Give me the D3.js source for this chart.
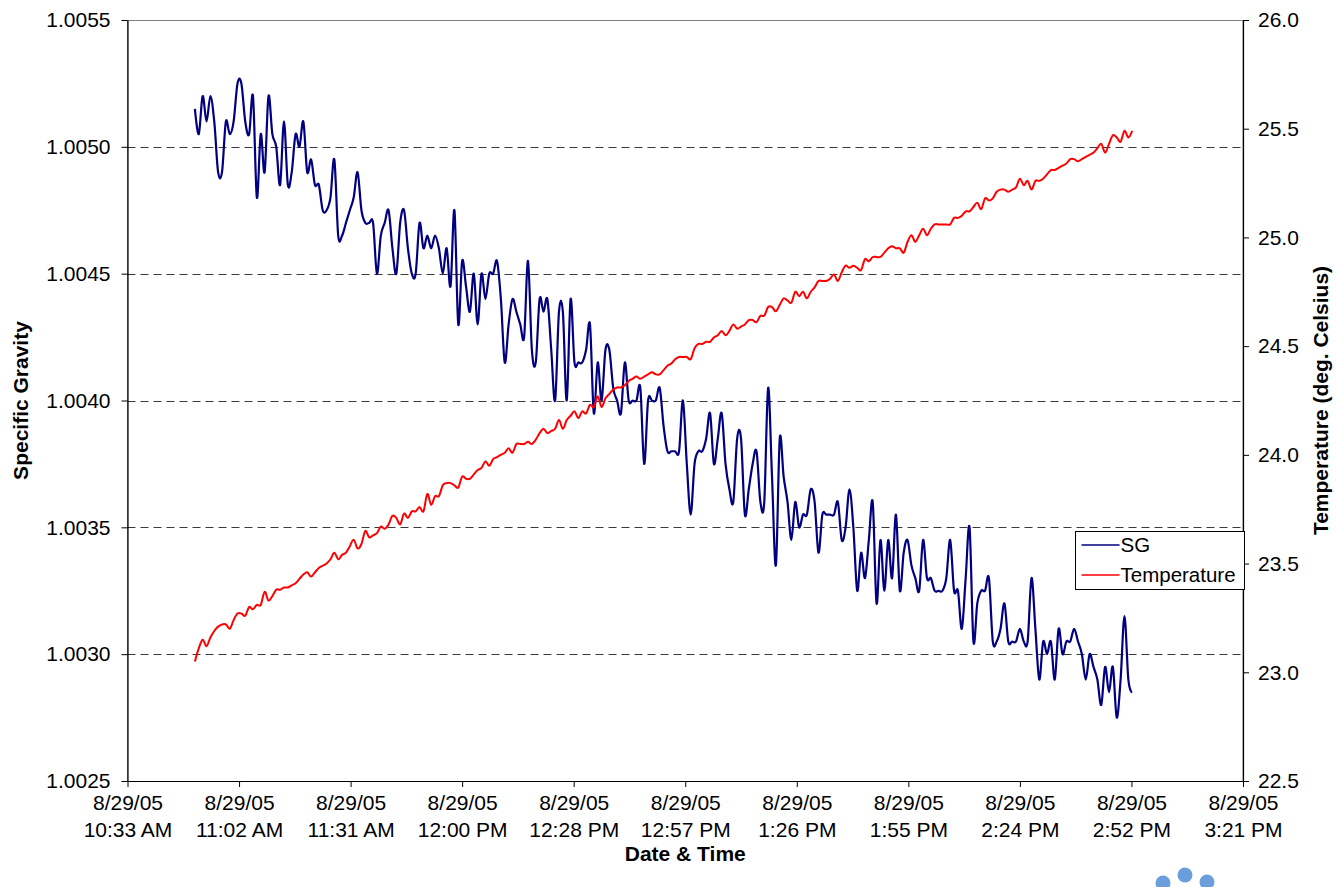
<!DOCTYPE html>
<html>
<head>
<meta charset="utf-8">
<script src="https://cdn.jsdelivr.net/npm/d3@7"></script>
<style>
  html, body { margin: 0; padding: 0; background: #fff; }
  svg { display: block; font-family: "Liberation Sans", Arial, sans-serif; }
</style>
</head>
<body>
<svg id="chart" width="1336" height="887"></svg>
<script>
// ---- data -------------------------------------------------------------
const seriesNames = ["SG", "Temperature"];
const firstReading = "2005-08-29 10:51:00";   // one reading per minute
const readingStepMinutes = 1;

const sgValues = [
  1.00515, 1.00505, 1.0052, 1.0051, 1.0052, 1.0051, 1.0049, 1.0049, 1.0051, 1.00505,
  1.0051, 1.00525, 1.00525, 1.0051, 1.00505, 1.0052, 1.0048, 1.00505, 1.0049, 1.0052,
  1.00505, 1.0050, 1.00485, 1.0051, 1.00485, 1.0049, 1.00505, 1.0050, 1.0051, 1.0049,
  1.00495, 1.00485, 1.00485, 1.00475, 1.00475, 1.0048, 1.00495, 1.00465, 1.00465, 1.0047,
  1.00475, 1.0048, 1.0049, 1.00475, 1.0047, 1.0047, 1.0047, 1.0045, 1.00465, 1.0047,
  1.00475, 1.0046, 1.0045, 1.0047, 1.00475, 1.0046, 1.0045, 1.0045, 1.0047, 1.0046,
  1.00465, 1.0046, 1.00465, 1.0046, 1.0045, 1.0046, 1.00445, 1.00475, 1.0043, 1.00455,
  1.00445, 1.00435, 1.0045, 1.0043, 1.0045, 1.0044, 1.0045, 1.0045, 1.00455, 1.0044,
  1.00415, 1.0043, 1.0044, 1.00435, 1.0043, 1.00425, 1.00455, 1.0042, 1.00415, 1.0044,
  1.00435, 1.0044, 1.0042, 1.0040, 1.00435, 1.00435, 1.0040, 1.0044, 1.00415, 1.00415,
  1.00415, 1.0042, 1.0043, 1.00395, 1.00415, 1.0040, 1.0042, 1.0042, 1.00405, 1.0040,
  1.00395, 1.00415, 1.0040, 1.0040, 1.0040, 1.00405, 1.00375, 1.0040, 1.0040, 1.0040,
  1.00405, 1.0039, 1.0038, 1.0038, 1.0038, 1.0038, 1.0040, 1.00375, 1.00355, 1.00375,
  1.0038, 1.0038, 1.00385, 1.00395, 1.00375, 1.00385, 1.00395, 1.00375, 1.00365, 1.0036,
  1.00385, 1.00385, 1.00355, 1.00365, 1.00375, 1.0038, 1.0036, 1.0036, 1.00405, 1.0037,
  1.00335, 1.00385, 1.0037, 1.0036, 1.00345, 1.0036, 1.0035, 1.00355, 1.00355, 1.00365,
  1.0036, 1.0034, 1.00355, 1.00355, 1.00355, 1.00355, 1.0036, 1.00345, 1.0035, 1.00365,
  1.0035, 1.00325, 1.0034, 1.0033, 1.00345, 1.0036, 1.0032, 1.00345, 1.00325, 1.00345,
  1.0033, 1.00355, 1.00325, 1.0034, 1.00345, 1.00335, 1.0033, 1.00325, 1.00345, 1.0033,
  1.0033, 1.00325, 1.00325, 1.00325, 1.0033, 1.00345, 1.00325, 1.00325, 1.0031, 1.0033,
  1.0035, 1.00305, 1.0032, 1.00325, 1.00325, 1.0033, 1.00305, 1.00305, 1.0031, 1.0032,
  1.00305, 1.00305, 1.00305, 1.0031, 1.00305, 1.00305, 1.0033, 1.0031, 1.0029, 1.00305,
  1.0030, 1.00305, 1.0029, 1.0031, 1.0030, 1.00305, 1.00305, 1.0031, 1.00305, 1.0030,
  1.0029, 1.0030, 1.00295, 1.0029, 1.0028, 1.00295, 1.00285, 1.00295, 1.00275, 1.0029,
  1.00315, 1.0029, 1.00285
];

const tempValues = [
  23.05, 23.11, 23.15, 23.12, 23.16, 23.19, 23.21, 23.22, 23.22, 23.20,
  23.24, 23.27, 23.27, 23.26, 23.30, 23.29, 23.31, 23.31, 23.37, 23.33,
  23.35, 23.38, 23.38, 23.39, 23.39, 23.40, 23.41, 23.43, 23.45, 23.46,
  23.44, 23.46, 23.48, 23.49, 23.50, 23.52, 23.55, 23.52, 23.54, 23.55,
  23.58, 23.61, 23.57, 23.59, 23.65, 23.62, 23.63, 23.64, 23.67, 23.66,
  23.68, 23.72, 23.71, 23.68, 23.73, 23.71, 23.74, 23.74, 23.76, 23.74,
  23.82, 23.77, 23.81, 23.81, 23.86, 23.87, 23.87, 23.86, 23.85, 23.90,
  23.89, 23.89, 23.91, 23.93, 23.94, 23.97, 23.95, 23.98, 23.99, 24.00,
  24.01, 24.03, 24.01, 24.05, 24.05, 24.05, 24.06, 24.05, 24.07, 24.10,
  24.12, 24.10, 24.11, 24.12, 24.16, 24.12, 24.16, 24.18, 24.20, 24.17,
  24.20, 24.19, 24.23, 24.22, 24.27, 24.22, 24.26, 24.28, 24.30, 24.31,
  24.31, 24.32, 24.34, 24.35, 24.36, 24.35, 24.36, 24.37, 24.38, 24.37,
  24.37, 24.39, 24.41, 24.42, 24.44, 24.45, 24.45, 24.45, 24.44, 24.49,
  24.51, 24.51, 24.52, 24.52, 24.54, 24.55, 24.57, 24.55, 24.57, 24.60,
  24.58, 24.59, 24.60, 24.62, 24.62, 24.61, 24.64, 24.64, 24.68, 24.68,
  24.66, 24.69, 24.72, 24.71, 24.70, 24.75, 24.73, 24.75, 24.72, 24.75,
  24.77, 24.80, 24.80, 24.80, 24.81, 24.83, 24.80, 24.84, 24.87, 24.86,
  24.87, 24.86, 24.85, 24.90, 24.89, 24.91, 24.91, 24.91, 24.93, 24.95,
  24.96, 24.95, 24.95, 24.93, 24.98, 25.01, 24.98, 25.01, 25.04, 25.01,
  25.04, 25.06, 25.06, 25.06, 25.06, 25.06, 25.09, 25.09, 25.10, 25.12,
  25.12, 25.14, 25.16, 25.13, 25.18, 25.17, 25.18, 25.21, 25.22, 25.22,
  25.21, 25.22, 25.23, 25.27, 25.24, 25.26, 25.22, 25.26, 25.26, 25.27,
  25.29, 25.31, 25.31, 25.32, 25.33, 25.34, 25.36, 25.36, 25.35, 25.36,
  25.37, 25.38, 25.39, 25.41, 25.43, 25.39, 25.43, 25.47, 25.46, 25.44,
  25.49, 25.46, 25.49
];

const timeTicks = [
  "2005-08-29 10:33:36", "2005-08-29 11:02:24", "2005-08-29 11:31:12",
  "2005-08-29 12:00:00", "2005-08-29 12:28:48", "2005-08-29 12:57:36",
  "2005-08-29 13:26:24", "2005-08-29 13:55:12", "2005-08-29 14:24:00",
  "2005-08-29 14:52:48", "2005-08-29 15:21:36"
];
const sgTicks = [1.0025, 1.0030, 1.0035, 1.0040, 1.0045, 1.0050, 1.0055];
const tempTicks = [22.5, 23.0, 23.5, 24.0, 24.5, 25.0, 25.5, 26.0];

const xTitle = "Date & Time";
const yLeftTitle = "Specific Gravity";
const yRightTitle = "Temperature (deg. Celsius)";

// ---- layout -----------------------------------------------------------
const W = 1336, H = 887;
const plot = { left: 127.5, right: 1243, top: 20, bottom: 781 };
const FONT = 21;
const TITLE_FONT = 21;

const parseTime = d3.timeParse("%Y-%m-%d %H:%M:%S");
const tickDates = timeTicks.map(parseTime);
const start = parseTime(firstReading);
const readings = sgValues.map((sg, i) => ({
  t: d3.timeMinute.offset(start, i * readingStepMinutes),
  sg,
  temp: tempValues[i]
}));

const x = d3.scaleTime()
  .domain([tickDates[0], tickDates[tickDates.length - 1]])
  .range([plot.left, plot.right]);
const yL = d3.scaleLinear()
  .domain([sgTicks[0], sgTicks[sgTicks.length - 1]])
  .range([plot.bottom, plot.top]);
const yR = d3.scaleLinear()
  .domain([tempTicks[0], tempTicks[tempTicks.length - 1]])
  .range([plot.bottom, plot.top]);

const svg = d3.select("#chart");
svg.append("rect").attr("width", W).attr("height", H).attr("fill", "#fff");

// plot frame (top edge shows as a grey line)
svg.append("rect")
  .attr("x", plot.left).attr("y", plot.top + 0.5)
  .attr("width", plot.right - plot.left).attr("height", plot.bottom - plot.top)
  .attr("fill", "none").attr("stroke", "#808080").attr("stroke-width", 1);

// dashed horizontal gridlines
svg.append("g")
  .selectAll("line")
  .data(sgTicks.slice(1, -1))
  .join("line")
  .attr("x1", plot.left).attr("x2", plot.right)
  .attr("y1", d => Math.round(yL(d)) + 0.5).attr("y2", d => Math.round(yL(d)) + 0.5)
  .attr("stroke", "#3a3a3a").attr("stroke-width", 1)
  .attr("stroke-dasharray", "8,5");

// series lines (smoothed)
const curve = d3.curveCardinal.tension(0);
const sgLine = d3.line().x(d => x(d.t)).y(d => yL(d.sg)).curve(curve);
const tempLine = d3.line().x(d => x(d.t)).y(d => yR(d.temp)).curve(curve);

svg.append("path").datum(readings)
  .attr("d", sgLine)
  .attr("fill", "none").attr("stroke", "#000080")
  .attr("stroke-width", 2.2).attr("stroke-linejoin", "round");

svg.append("path").datum(readings)
  .attr("d", tempLine)
  .attr("fill", "none").attr("stroke", "#ff0000")
  .attr("stroke-width", 2).attr("stroke-linejoin", "round");

// axes
function styleAxis(g) {
  g.selectAll("path.domain").attr("stroke", "#000").attr("stroke-width", 1.2);
  g.selectAll(".tick line").attr("stroke", "#000").attr("stroke-width", 1);
  g.selectAll("text").attr("font-size", FONT).attr("fill", "#000")
    .attr("font-family", "'Liberation Sans', Arial, sans-serif");
}

svg.append("g")
  .attr("transform", `translate(${plot.left},0)`)
  .call(d3.axisLeft(yL).tickValues(sgTicks).tickFormat(d3.format(".4f"))
    .tickSize(6).tickSizeOuter(0).tickPadding(11))
  .call(styleAxis);

svg.append("g")
  .attr("transform", `translate(${plot.right},0)`)
  .call(d3.axisRight(yR).tickValues(tempTicks).tickFormat(d3.format(".1f"))
    .tickSize(6).tickSizeOuter(0).tickPadding(9))
  .call(styleAxis);

const fmtDate = d3.timeFormat("%-m/%-d/%y");
const fmtTime = d3.timeFormat("%-I:%M %p");
const xAxisG = svg.append("g")
  .attr("transform", `translate(0,${plot.bottom})`)
  .call(d3.axisBottom(x).tickValues(tickDates).tickFormat(() => "")
    .tickSize(6).tickSizeOuter(0).tickPadding(8))
  .call(styleAxis);

xAxisG.selectAll(".tick text").each(function (d) {
  const t = d3.select(this).text(null);
  t.append("tspan").attr("x", 0).attr("dy", "0.71em").text(fmtDate(d));
  t.append("tspan").attr("x", 0).attr("dy", "1.3em").text(fmtTime(d));
});

// axis titles
svg.append("text")
  .attr("x", (plot.left + plot.right) / 2).attr("y", 861)
  .attr("text-anchor", "middle").attr("font-weight", "bold").attr("font-size", TITLE_FONT)
  .text(xTitle);

svg.append("text")
  .attr("transform", `translate(21,${(plot.top + plot.bottom) / 2}) rotate(-90)`)
  .attr("text-anchor", "middle").attr("dy", "0.35em")
  .attr("font-weight", "bold").attr("font-size", TITLE_FONT)
  .text(yLeftTitle);

svg.append("text")
  .attr("transform", `translate(1321,${(plot.top + plot.bottom) / 2}) rotate(-90)`)
  .attr("text-anchor", "middle").attr("dy", "0.35em")
  .attr("font-weight", "bold").attr("font-size", TITLE_FONT)
  .text(yRightTitle);

// legend
const legend = svg.append("g").attr("transform", "translate(1075.5,531.5)");
legend.append("rect")
  .attr("width", 169).attr("height", 58)
  .attr("fill", "#fff").attr("stroke", "#000").attr("stroke-width", 1);
const legendColors = ["#000080", "#ff0000"];
seriesNames.forEach((name, i) => {
  const yy = 13.5 + i * 30;
  legend.append("line")
    .attr("x1", 6).attr("x2", 44).attr("y1", yy).attr("y2", yy)
    .attr("stroke", legendColors[i]).attr("stroke-width", 1.5);
  legend.append("text")
    .attr("x", 45).attr("y", yy).attr("dy", "0.35em")
    .attr("font-size", 20.5).text(name);
});

// small mark in the lower right corner
const mark = svg.append("g").attr("fill", "#6a9fdc");
[[1163, 883], [1185, 875], [1207, 882]].forEach(([cx, cy]) => {
  mark.append("circle").attr("cx", cx).attr("cy", cy).attr("r", 7.5);
});
</script>
</body>
</html>
